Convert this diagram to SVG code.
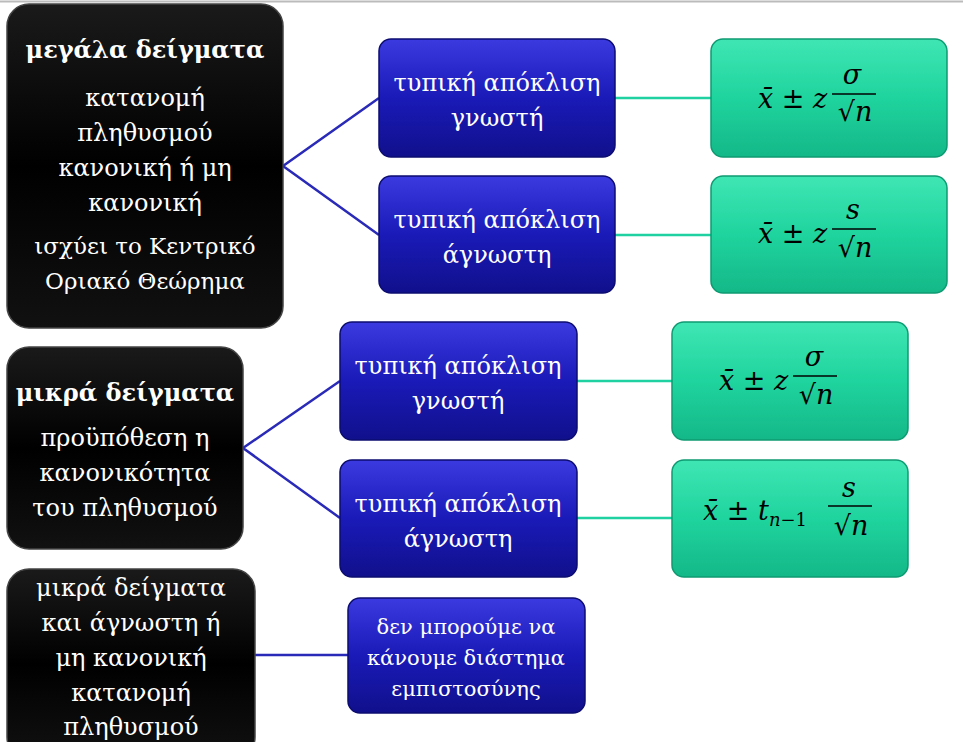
<svg xmlns="http://www.w3.org/2000/svg" width="963" height="742" viewBox="0 0 963 742">
<defs>
<linearGradient id="gb" x1="0" y1="0" x2="0" y2="1"><stop offset="0" stop-color="#3a3ae0"/><stop offset="0.5" stop-color="#1a1ab8"/><stop offset="1" stop-color="#10108c"/></linearGradient>
<linearGradient id="gg" x1="0" y1="0" x2="0" y2="1"><stop offset="0" stop-color="#3fe6b4"/><stop offset="0.5" stop-color="#1fd49e"/><stop offset="1" stop-color="#14b888"/></linearGradient>
<linearGradient id="gk" x1="0" y1="0" x2="0" y2="1"><stop offset="0" stop-color="#1a1a1a"/><stop offset="0.5" stop-color="#000"/><stop offset="1" stop-color="#111"/></linearGradient>
</defs>
<style>
.k{fill:url(#gk);stroke:#444;stroke-width:1.5}
.b{fill:url(#gb);stroke:#0c0c70;stroke-width:1.5}
.g{fill:url(#gg);stroke:#0e9a72;stroke-width:1.5}
.t{font-family:"DejaVu Serif","Liberation Serif",serif;font-size:24px;fill:#fff;text-anchor:middle}
.tb{font-weight:bold}
.f{font-family:"DejaVu Serif","Liberation Serif",serif;font-size:27px;fill:#000;font-style:italic}
.cb{stroke:#2a2ab8;stroke-width:2.5;fill:none}
.cg{stroke:#1fd0a0;stroke-width:2.5;fill:none}
</style>
<rect width="963" height="742" fill="#fff"/>
<line x1="0" y1="1.5" x2="963" y2="1.5" stroke="#bbb" stroke-width="2"/>
<g id="connectors">
<polyline class="cb" points="379,98 283,166 379,235"/>
<polyline class="cb" points="340,381 243,448 340,518"/>
<line class="cb" x1="255" y1="655" x2="348" y2="655"/>
<line class="cg" x1="615" y1="98" x2="711" y2="98"/>
<line class="cg" x1="615" y1="235" x2="711" y2="235"/>
<line class="cg" x1="577" y1="381" x2="672" y2="381"/>
<line class="cg" x1="577" y1="518" x2="672" y2="518"/>
</g>
<g id="n1"><rect class="k" x="7" y="4" width="276" height="324" rx="22"/>
<text class="t"><tspan class="tb" x="145" y="58">μεγάλα δείγματα</tspan><tspan x="145" y="106">κατανομή</tspan><tspan x="145" y="141">πληθυσμού</tspan><tspan x="145" y="176">κανονική ή μη</tspan><tspan x="145" y="211">κανονική</tspan><tspan x="145" y="254" style="font-size:23px">ισχύει το Κεντρικό</tspan><tspan x="145" y="289" style="font-size:23px">Οριακό Θεώρημα</tspan></text></g>
<g id="n2"><rect class="k" x="7" y="347" width="236" height="202" rx="22"/>
<text class="t"><tspan class="tb" x="125" y="401">μικρά δείγματα</tspan><tspan x="125" y="446">προϋπόθεση η</tspan><tspan x="125" y="481">κανονικότητα</tspan><tspan x="125" y="516">του πληθυσμού</tspan></text></g>
<g id="n3"><rect class="k" x="7" y="569" width="248" height="190" rx="22"/>
<text class="t"><tspan x="131" y="596">μικρά δείγματα</tspan><tspan x="131" y="631">και άγνωστη ή</tspan><tspan x="131" y="666">μη κανονική</tspan><tspan x="131" y="701">κατανομή</tspan><tspan x="131" y="735">πληθυσμού</tspan></text></g>
<g id="b1"><rect class="b" x="379" y="39" width="236" height="118" rx="12"/><text class="t"><tspan x="497" y="91">τυπική απόκλιση</tspan><tspan x="497" y="126">γνωστή</tspan></text></g>
<g id="b2"><rect class="b" x="379" y="176" width="236" height="117" rx="12"/><text class="t"><tspan x="497" y="228">τυπική απόκλιση</tspan><tspan x="497" y="263">άγνωστη</tspan></text></g>
<g id="b3"><rect class="b" x="340" y="322" width="237" height="118" rx="12"/><text class="t"><tspan x="458" y="374">τυπική απόκλιση</tspan><tspan x="458" y="409">γνωστή</tspan></text></g>
<g id="b4"><rect class="b" x="340" y="460" width="237" height="117" rx="12"/><text class="t"><tspan x="458" y="512">τυπική απόκλιση</tspan><tspan x="458" y="547">άγνωστη</tspan></text></g>
<g id="b5"><rect class="b" x="348" y="598" width="237" height="115" rx="12"/><text class="t" style="font-size:21px"><tspan x="466" y="634">δεν μπορούμε να</tspan><tspan x="466" y="665">κάνουμε διάστημα</tspan><tspan x="466" y="696">εμπιστοσύνης</tspan></text></g>
<g id="g1"><rect class="g" x="711" y="39" width="236" height="118" rx="12"/>
<text class="f" x="758" y="108">x̄ <tspan font-style="normal">±</tspan> z</text>
<text class="f" x="852" y="84" text-anchor="middle">σ</text><line x1="832" y1="94" x2="876" y2="94" stroke="#000" stroke-width="1.5"/>
<text class="f" x="855" y="121" text-anchor="middle"><tspan font-style="normal">√</tspan>n</text></g>
<g id="g2"><rect class="g" x="711" y="176" width="236" height="117" rx="12"/>
<text class="f" x="758" y="243">x̄ <tspan font-style="normal">±</tspan> z</text>
<text class="f" x="853" y="219" text-anchor="middle">s</text><line x1="832" y1="229" x2="876" y2="229" stroke="#000" stroke-width="1.5"/>
<text class="f" x="855" y="257" text-anchor="middle"><tspan font-style="normal">√</tspan>n</text></g>
<g id="g3"><rect class="g" x="672" y="322" width="236" height="118" rx="12"/>
<text class="f" x="719" y="390">x̄ <tspan font-style="normal">±</tspan> z</text>
<text class="f" x="814" y="366" text-anchor="middle">σ</text><line x1="793" y1="376" x2="837" y2="376" stroke="#000" stroke-width="1.5"/>
<text class="f" x="816" y="404" text-anchor="middle"><tspan font-style="normal">√</tspan>n</text></g>
<g id="g4"><rect class="g" x="672" y="460" width="236" height="117" rx="12"/>
<text class="f" x="703" y="520">x̄ <tspan font-style="normal">±</tspan> t<tspan font-size="18" dy="6">n</tspan><tspan font-size="18" font-style="normal">−1</tspan></text>
<text class="f" x="849" y="497" text-anchor="middle">s</text><line x1="828" y1="506" x2="872" y2="506" stroke="#000" stroke-width="1.5"/>
<text class="f" x="851" y="535" text-anchor="middle"><tspan font-style="normal">√</tspan>n</text></g>
</svg>
